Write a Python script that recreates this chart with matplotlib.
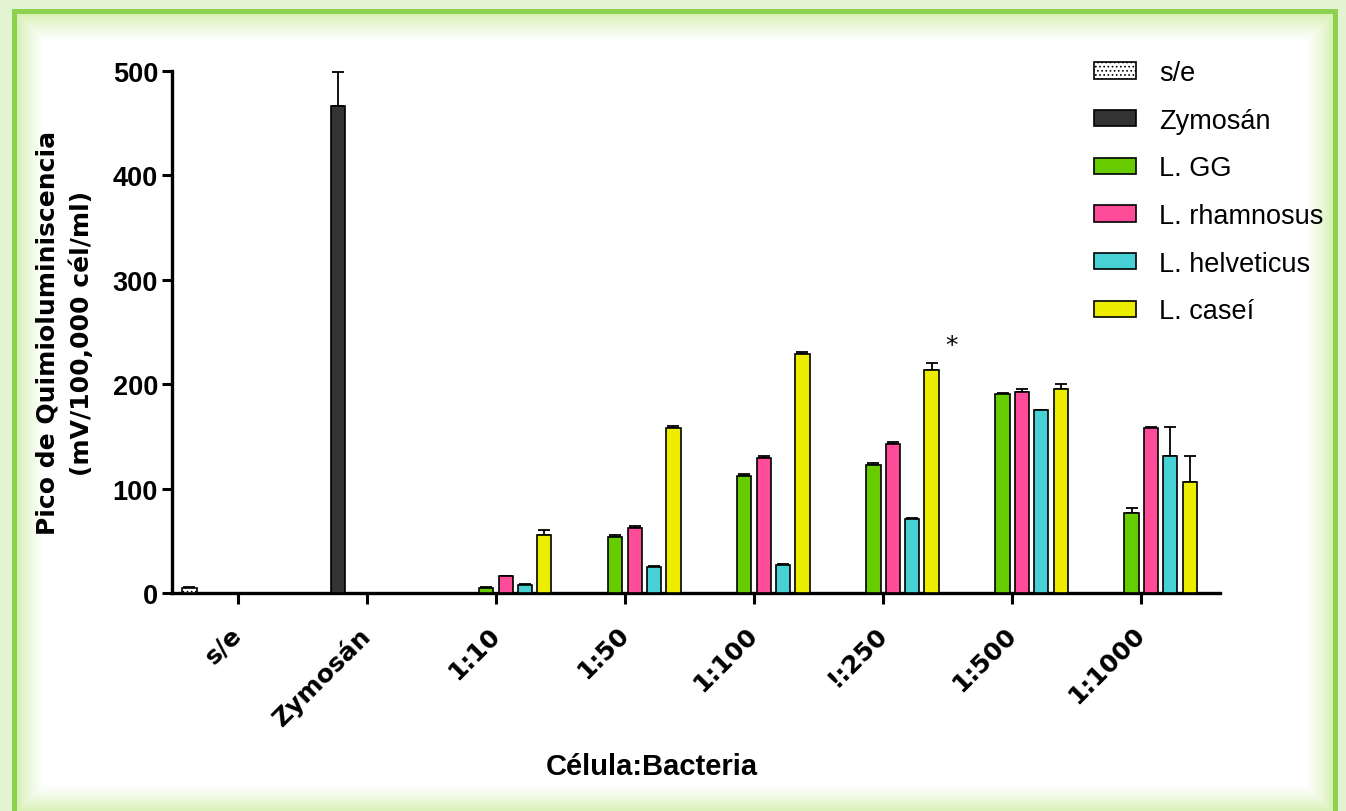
import numpy as np
import matplotlib
matplotlib.use("Agg")
import matplotlib.pyplot as plt
from matplotlib.patches import Patch

# Data
groups = ['s/e', 'Zymosán', '1:10', '1:50', '1:100', '!:250', '1:500', '1:1000']
series = ['s/e', 'Zymosán', 'L. GG', 'L. rhamnosus', 'L. helveticus', 'L. caseí']
nan = np.nan
se_vals = [5, nan, nan, nan, nan, nan, nan, nan]
zym_vals = [nan, 466, nan, nan, nan, nan, nan, nan]
gg_vals = [nan, nan, 5, 54, 112, 123, 191, 77]
rham_vals = [nan, nan, 16, 62, 129, 143, 193, 158]
helv_vals = [nan, nan, 8, 25, 27, 71, 175, 131]
casei_vals = [nan, nan, 56, 158, 229, 214, 195, 106]

se_err = [1, nan, nan, nan, nan, nan, nan, nan]
zym_err = [nan, 33, nan, nan, nan, nan, nan, nan]
gg_err = [nan, nan, 0.5, 2, 2, 2, 0.5, 4]
rham_err = [nan, nan, 0.5, 2, 2, 2, 2, 1]
helv_err = [nan, nan, 0.5, 0.5, 0.5, 0.5, 0.5, 28]
casei_err = [nan, nan, 4, 2, 2, 6, 5, 25]

colors = ['white', '#333333', '#66cc00', '#ff4c99', '#47d1d4', '#eded00']
hatches = ['....', None, None, None, None, None]

values = [se_vals, zym_vals, gg_vals, rham_vals, helv_vals, casei_vals]
errors = [se_err, zym_err, gg_err, rham_err, helv_err, casei_err]

W, H = 1346, 812
plt.rcParams['hatch.linewidth'] = 0.7
fig = plt.figure(figsize=(W / 100, H / 100), dpi=100)

# glowing green frame behind everything
yy, xx = np.mgrid[0:H, 0:W]
d = np.minimum.reduce([xx - 17, yy - 15, 1332 - xx, 812 - yy])
t = np.clip(d / 26.0, 0, 1) ** 0.8
glow = np.array([0.84, 0.94, 0.70])
img = glow[None, None, :] * (1 - t[..., None]) + t[..., None]
outer = (d < -5)
img[outer] = [0.89, 0.96, 0.82]
band = (d >= -5) & (d < 0)
img[band] = [0.56, 0.82, 0.31]
fig.figimage(img, xo=0, yo=0, origin='upper', zorder=-10)

ax = fig.add_axes([172 / W, 1 - 594 / H, (1220 - 172) / W, (594 - 72) / H])
ax.patch.set_alpha(0)

x = np.arange(len(groups))
slot = 0.15
bw = 0.11
for i, (name, vals, errs) in enumerate(zip(series, values, errors)):
    vals = np.array(vals, dtype=float)
    errs = np.array(errs, dtype=float)
    ok = ~np.isnan(vals)
    xpos = x[ok] + (i - 2.5) * slot
    ax.bar(xpos, vals[ok], width=bw, color=colors[i], edgecolor='black',
           linewidth=1.2, hatch=hatches[i], zorder=3)
    ax.errorbar(xpos, vals[ok], yerr=[np.zeros(ok.sum()), errs[ok]], fmt='none',
                ecolor='black', elinewidth=1.3, capsize=4, capthick=1.3, zorder=2)

# significance mark next to L. caseí at !:250
ax.text(5 + 2.5 * slot + 0.155, 238, '*', ha='center', va='center', fontsize=18,
        family='DejaVu Sans', clip_on=False)

ax.set_xlim(-0.51, 7.61)
ax.set_ylim(0, 500)
ax.set_yticks([0, 100, 200, 300, 400, 500])
ax.set_xticks(x)
ax.set_xticklabels(groups, rotation=45, ha='right', va='center',
                   rotation_mode='anchor', fontsize=18, fontweight='bold',
                   family='DejaVu Sans')
for lab in ax.get_yticklabels():
    lab.set_family('Liberation Sans')
    lab.set_fontweight('bold')
    lab.set_fontsize(19.5)
ax.tick_params(axis='y', length=7, width=2.2, pad=3)
ax.tick_params(axis='x', length=8, width=2.2, pad=19)
for s in ['top', 'right']:
    ax.spines[s].set_visible(False)
for s in ['left', 'bottom']:
    ax.spines[s].set_linewidth(2.4)

ax.set_ylabel('Pico de Quimioluminiscencia\n(mV/100,000 cél/ml)', fontsize=18,
              fontweight='bold', family='DejaVu Sans', linespacing=1.5)
ax.yaxis.set_label_coords(-78 / (1220 - 172), 0.5)
fig.text(652 / W, 1 - 767 / H, 'Célula:Bacteria', ha='center', va='center',
         fontsize=21, fontweight='bold', family='Liberation Sans')

handles = [Patch(facecolor=c, edgecolor='black', linewidth=1.2, hatch=h)
           for c, h in zip(colors, hatches)]
fig.legend(handles, series, loc='upper left', bbox_to_anchor=(1094 / W, 1 - 61 / H),
           frameon=False, borderpad=0, borderaxespad=0, handlelength=1.55,
           handleheight=0.56, handletextpad=0.85, labelspacing=0.8,
           prop={'family': 'Liberation Sans', 'size': 19.5})

fig.savefig('out.png', dpi=100)
